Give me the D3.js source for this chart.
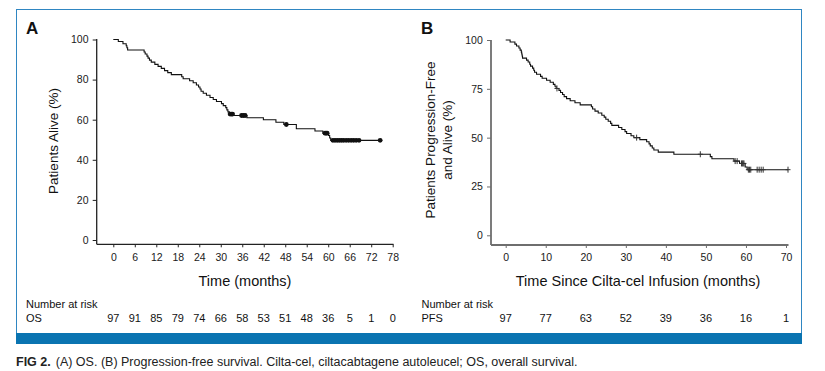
<!DOCTYPE html>
<html><head><meta charset="utf-8">
<script src="https://cdn.jsdelivr.net/npm/d3@7"></script>
<style>
html,body{margin:0;padding:0;background:#fff;}
svg{display:block;}
</style></head>
<body>
<script>
// ---------- DATA ----------
const osXTicks = [0,6,12,18,24,30,36,42,48,54,60,66,72,78];
const osYTicks = [0,20,40,60,80,100];
const osAtRisk = [97,91,85,79,74,66,58,53,51,48,36,5,1,0];
// Kaplan-Meier steps [time (months), % alive]
const osSteps = [[0,100],[1.4,99.0],[2.7,97.9],[3.6,96.9],[3.8,95.9],[4.0,94.8],[8.6,93.8],[8.9,92.8],[9.4,91.7],[9.7,90.7],[10.1,89.7],[10.6,88.7],[11.6,87.6],[12.5,86.6],[13.4,85.6],[14.3,84.5],[15.2,83.5],[16.2,82.5],[19.1,81.4],[19.5,80.4],[21.3,79.4],[22.3,78.4],[23.2,77.3],[23.8,76.3],[24.2,75.3],[24.5,74.2],[25.1,73.2],[26.0,72.2],[27.0,71.1],[27.9,70.1],[28.8,69.1],[30.2,68.0],[30.7,67.0],[31.4,66.0],[31.7,64.9],[32.0,63.9],[32.4,62.8],[33.5,62.1],[37.3,61.0],[41.9,60.0],[45.4,58.7],[47.6,57.6],[51.1,55.5],[56.3,54.4],[58.5,53.3],[60.1,52.1],[60.4,50.9],[60.7,49.7]];
const osEnd = 74.5;
const osCensor = [32.6,33.0,33.3,35.8,36.3,36.8,48.3,59.1,59.4,59.7,61.3,61.9,62.5,63.1,63.7,64.3,65.0,65.7,66.4,67.1,67.8,68.6,74.5];

const pfsXTicks = [0,10,20,30,40,50,60,70];
const pfsYTicks = [0,25,50,75,100];
const pfsAtRisk = [97,77,63,52,39,36,16,1];
const pfsSteps = [[0,100],[1.1,99.0],[2.3,97.9],[2.7,96.9],[3.3,95.9],[3.6,94.8],[3.9,93.8],[4.0,92.8],[4.1,91.8],[4.2,90.7],[5.2,89.7],[5.6,88.7],[6.0,87.6],[6.2,86.6],[6.7,85.6],[7.0,84.5],[7.2,83.5],[7.7,82.5],[8.7,81.4],[9.1,80.4],[10.2,79.4],[11.1,78.4],[11.9,77.3],[12.3,76.3],[12.6,75.2],[13.3,74.2],[13.7,73.1],[14.2,72.1],[14.6,71.0],[15.2,70.0],[16.1,68.9],[17.3,67.9],[18.6,66.8],[21.4,65.8],[21.7,64.7],[22.3,63.6],[23.1,62.6],[24.0,61.5],[24.6,60.5],[25.0,59.4],[25.6,58.4],[26.2,57.3],[26.5,56.3],[28.2,55.2],[29.0,54.2],[29.8,53.1],[30.2,52.1],[31.3,51.0],[32.0,50.0],[33.5,49.0],[35.2,47.9],[35.8,46.8],[36.1,45.8],[36.6,44.7],[37.0,43.7],[38.1,42.6],[42.0,41.5],[51.1,40.3],[51.5,39.2],[57.0,38.0],[58.4,36.8],[59.8,35.0],[60.3,33.6]];
const pfsEnd = 70.5;
const pfsCensor = [12.8,32.7,48.6,57.3,57.8,58.9,59.1,59.3,59.5,60.6,60.9,61.2,62.8,63.3,63.8,64.3,70.5];

// ---------- DRAW ----------
const W = 825, H = 371;
const sans = "'Liberation Sans', Arial, Helvetica, sans-serif";
const narrow = "'Liberation Sans Narrow', 'Arial Narrow', 'Liberation Sans', sans-serif";
const svg = d3.select("body").append("svg").attr("width", W).attr("height", H);
svg.append("rect").attr("width", W).attr("height", H).attr("fill", "#fff");

// frame
svg.append("rect").attr("x", 16.5).attr("y", 9.5).attr("width", 785).attr("height", 324)
  .attr("fill", "none").attr("stroke", "#2f86c2").attr("stroke-width", 1);
svg.append("rect").attr("x", 16).attr("y", 333).attr("width", 786).attr("height", 11).attr("fill", "#0a74b1");

// caption
const cap = svg.append("text").attr("x", 16).attr("y", 366).attr("font-family", narrow).attr("font-size", 12.5).attr("fill", "#222");
cap.append("tspan").attr("font-weight", "bold").text("FIG 2.");
cap.append("tspan").attr("dx", 5).text("(A) OS. (B) Progression-free survival. Cilta-cel, ciltacabtagene autoleucel; OS, overall survival.");

function stepValue(steps, t) {
  const i = d3.bisector(d => d[0]).right(steps, t) - 1;
  return steps[Math.max(0, i)][1];
}

function panel(cfg) {
  const g = svg.append("g");
  const x = d3.scaleLinear([0, cfg.xMax], cfg.xRange);
  const y = d3.scaleLinear([0, 100], cfg.yRange);

  // axis lines
  g.append("line").attr("x1", cfg.axX).attr("x2", cfg.axX).attr("y1", cfg.axTop).attr("y2", cfg.axY)
    .attr("stroke", cfg.axColor).attr("stroke-width", cfg.axW);
  g.append("line").attr("x1", cfg.axX).attr("x2", cfg.axRight).attr("y1", cfg.axY).attr("y2", cfg.axY)
    .attr("stroke", cfg.axColor).attr("stroke-width", cfg.axW);

  const ya = g.append("g").attr("transform", `translate(${cfg.axX},0)`)
    .call(d3.axisLeft(y).tickValues(cfg.yTicks).tickSize(4).tickPadding(4.2));
  const xa = g.append("g").attr("transform", `translate(0,${cfg.axY})`)
    .call(d3.axisBottom(x).tickValues(cfg.xTicks).tickSize(3).tickPadding(cfg.xPad));
  [ya, xa].forEach(a => {
    a.select(".domain").remove();
    a.selectAll(".tick line").attr("stroke", cfg.axColor).attr("stroke-width", 1);
    a.selectAll(".tick text").attr("font-family", sans).attr("font-size", 10.5).attr("fill", "#1a1a1a");
  });

  // curve
  const pts = cfg.steps.concat([[cfg.end, cfg.steps[cfg.steps.length - 1][1]]]);
  const line = d3.line().x(d => x(d[0])).y(d => y(d[1])).curve(d3.curveStepAfter);
  g.append("path").datum(pts).attr("d", line).attr("fill", "none").attr("stroke", "#111").attr("stroke-width", 1.1);

  // censor marks
  if (cfg.censorStyle === "dot") {
    g.selectAll("circle.c").data(cfg.censor).join("circle")
      .attr("cx", d => x(d)).attr("cy", d => y(stepValue(cfg.steps, d)))
      .attr("r", 2.4).attr("fill", "#111");
  } else {
    const cg = g.selectAll("g.c").data(cfg.censor).join("g")
      .attr("transform", d => `translate(${x(d)},${y(stepValue(cfg.steps, d))})`);
    cg.append("line").attr("x1", 0).attr("x2", 0).attr("y1", -3).attr("y2", 3).attr("stroke", "#333").attr("stroke-width", 1);
    cg.append("line").attr("x1", -2.5).attr("x2", 2.5).attr("y1", 0).attr("y2", 0).attr("stroke", "#333").attr("stroke-width", 1);
  }

  // panel letter
  g.append("text").attr("x", cfg.letterX).attr("y", 34).attr("font-family", sans).attr("font-weight", "bold")
    .attr("font-size", 17).attr("fill", "#111").text(cfg.letter);

  // axis titles
  g.append("text").attr("x", cfg.xTitleX).attr("y", 286).attr("text-anchor", "middle")
    .attr("font-family", narrow).attr("font-size", 14.5).attr("fill", "#111").text(cfg.xTitle);
  cfg.yTitle.forEach((t, i) => {
    g.append("text").attr("transform", `translate(${cfg.yTitleX[i]},${cfg.yTitleY}) rotate(-90)`)
      .attr("text-anchor", "middle").attr("font-family", sans).attr("font-size", 13.5).attr("fill", "#111").text(t);
  });

  // number at risk
  g.append("text").attr("x", cfg.riskX).attr("y", 308).attr("font-family", narrow).attr("font-size", 11).attr("fill", "#111").text("Number at risk");
  g.append("text").attr("x", cfg.riskX).attr("y", 321.5).attr("font-family", narrow).attr("font-size", 11).attr("fill", "#111").text(cfg.riskLabel);
  g.selectAll("text.r").data(cfg.atRisk).join("text")
    .attr("x", (d, i) => x(cfg.xTicks[i])).attr("y", 321.5).attr("text-anchor", "middle")
    .attr("font-family", narrow).attr("font-size", 11).attr("fill", "#111").text(d => d);
}

panel({
  letter: "A", letterX: 26, xMax: 78, xRange: [113.3, 392.7], yRange: [240, 39.5],
  axX: 96.7, axY: 244.3, axTop: 39, axRight: 393.5, axColor: "#222", axW: 1.3, xPad: 6,
  xTicks: osXTicks, yTicks: osYTicks, steps: osSteps, end: osEnd, censor: osCensor, censorStyle: "dot",
  xTitle: "Time (months)", xTitleX: 245, yTitle: ["Patients Alive (%)"], yTitleX: [58], yTitleY: 141,
  riskX: 26, riskLabel: "OS", atRisk: osAtRisk
});
panel({
  letter: "B", letterX: 421, xMax: 70, xRange: [505.7, 786], yRange: [235.3, 40],
  axX: 491, axY: 245, axTop: 40, axRight: 788.5, axColor: "#6e6e6e", axW: 1.8, xPad: 5.5,
  xTicks: pfsXTicks, yTicks: pfsYTicks, steps: pfsSteps, end: pfsEnd, censor: pfsCensor, censorStyle: "cross",
  xTitle: "Time Since Cilta-cel Infusion (months)", xTitleX: 638,
  yTitle: ["Patients Progression-Free", "and Alive (%)"], yTitleX: [435, 452], yTitleY: 140,
  riskX: 421.5, riskLabel: "PFS", atRisk: pfsAtRisk
});
</script>
</body></html>
